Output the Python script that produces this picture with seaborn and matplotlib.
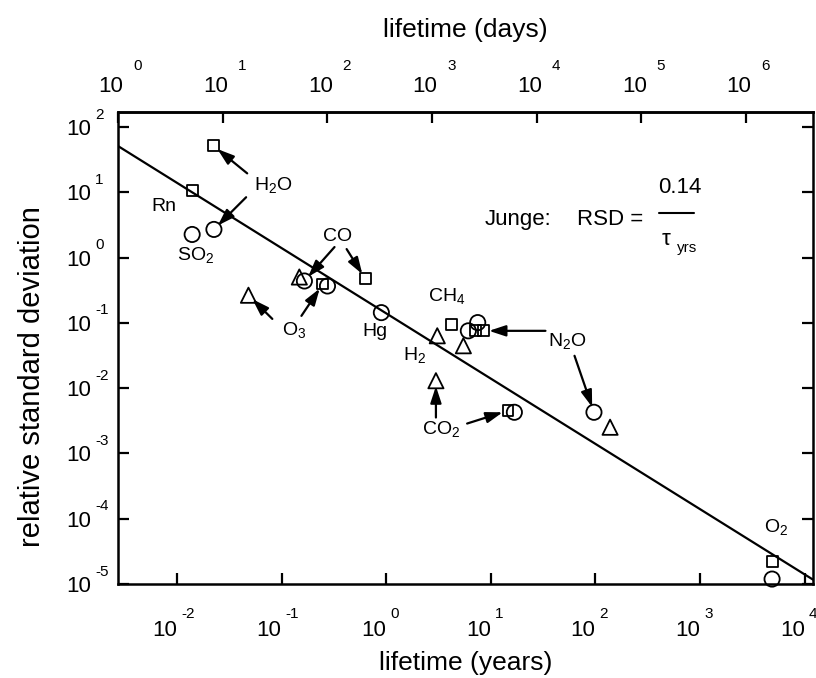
import numpy as np
import pandas as pd
import matplotlib
matplotlib.use("Agg")
import matplotlib.pyplot as plt
from matplotlib.ticker import NullLocator
from matplotlib.transforms import ScaledTranslation
import seaborn as sns

# ---------------- data: lifetime (years) vs relative standard deviation ----------------
circle_species = ["H2O", "SO2", "CO", "O3", "Hg", "CH4", "N2O", "CO2", "N2O", "O2"]
circle_tau = [0.0226, 0.014, 0.1655, 0.275, 0.90, 6.1, 7.5, 16.8, 96.8, 4876]
circle_rsd = [2.7, 2.26, 0.438, 0.367, 0.1435, 0.0755, 0.101, 0.00427, 0.00427, 1.19e-5]

square_species = ["H2O", "Rn", "O3", "CO", "CH4", "CH4", "N2O", "CO2", "O2"]
square_tau = [0.0222, 0.014, 0.248, 0.632, 4.17, 7.1, 8.5, 14.6, 4876]
square_rsd = [52, 10.7, 0.394, 0.474, 0.0955, 0.0755, 0.0755, 0.00453, 2.19e-5]

triangle_species = ["CO", "O3", "H2", "CH4", "CO2", "N2O"]
triangle_tau = [0.148, 0.0483, 3.08, 5.47, 2.99, 138]
triangle_rsd = [0.504, 0.265, 0.0634, 0.0446, 0.013, 0.00252]

# species labels (text, lifetime, rsd at baseline)
label_text = ["H$_2$O", "Rn", "SO$_2$", "CO", "O$_3$", "Hg", "CH$_4$", "H$_2$", "N$_2$O", "CO$_2$", "O$_2$"]
label_tau = [0.083, 0.00759, 0.0152, 0.343, 0.131, 0.785, 3.83, 1.88, 53.5, 3.34, 5360]
label_rsd = [10.7, 5.13, 0.916, 1.79, 0.0657, 0.0634, 0.217, 0.0272, 0.0446, 0.00195, 6.22e-5]

# arrows: start point (lifetime, rsd) -> target marker (kind, index)
arrow_start_tau = [0.047, 0.0459, 0.321, 0.419, 0.0817, 0.155, 33.3, 63.1, 2.99, 5.94]
arrow_start_rsd = [19.5, 8.4, 1.45, 1.35, 0.115, 0.128, 0.0755, 0.0313, 0.00355, 0.00287]
arrow_target = [("square", 0), ("circle", 0), ("circle", 2), ("square", 3), ("triangle", 1),
                ("square", 2), ("square", 6), ("circle", 8), ("triangle", 4), ("square", 7)]

junge_coef = 0.14
days_per_year = 365.25

xtick_exp = [-2, -1, 0, 1, 2, 3, 4]
ytick_exp = [-5, -4, -3, -2, -1, 0, 1, 2]
daytick_exp = [0, 1, 2, 3, 4, 5, 6]

# ---------------- styling ----------------
sns.set_style("ticks")
plt.rcParams["font.family"] = ["Liberation Sans", "DejaVu Sans"]
plt.rcParams["mathtext.fontset"] = "custom"
plt.rcParams["mathtext.rm"] = "Liberation Sans"
plt.rcParams["mathtext.it"] = "Liberation Sans:italic"
plt.rcParams["mathtext.bf"] = "Liberation Sans:bold"
for key in ["text.color", "axes.labelcolor", "xtick.color", "ytick.color",
            "axes.edgecolor", "xtick.labelcolor", "ytick.labelcolor"]:
    plt.rcParams[key] = "black"

df = pd.concat([
    pd.DataFrame({"species": circle_species, "tau": circle_tau, "rsd": circle_rsd, "kind": "circle"}),
    pd.DataFrame({"species": square_species, "tau": square_tau, "rsd": square_rsd, "kind": "square"}),
    pd.DataFrame({"species": triangle_species, "tau": triangle_tau, "rsd": triangle_rsd, "kind": "triangle"}),
], ignore_index=True)

fig = plt.figure(figsize=(8.16, 6.78), dpi=100)
ax = fig.add_axes([118 / 816, 1 - 584 / 678, (813 - 118) / 816, (584 - 112) / 678])
ax.set_xscale("log")
ax.set_yscale("log")
xmin, xmax = 1 / days_per_year, 1.2e4
ax.set_xlim(xmin, xmax)
ax.set_ylim(1e-5, 10 ** 2.23)

# Junge relation line
tau_line = np.array([xmin, xmax])
sns.lineplot(x=tau_line, y=junge_coef / tau_line, color="black", lw=1.6, ax=ax, zorder=2)

markers = {"circle": "o", "square": "s", "triangle": "^"}
sizes = {"circle": 120, "square": 62, "triangle": 120}
for kind in ["circle", "square", "triangle"]:
    g = df[df["kind"] == kind]
    sns.scatterplot(data=g, x="tau", y="rsd", marker=markers[kind], s=sizes[kind],
                    color="black", facecolor="none", edgecolor="black", linewidth=1.3,
                    ax=ax, zorder=3, clip_on=False)
for coll in ax.collections:
    coll.set_facecolor("none")
    coll.set_edgecolor("black")

# arrows
kind_data = {"circle": (circle_tau, circle_rsd), "square": (square_tau, square_rsd),
             "triangle": (triangle_tau, triangle_rsd)}
for sx, sy, (kind, idx) in zip(arrow_start_tau, arrow_start_rsd, arrow_target):
    tx, ty = kind_data[kind][0][idx], kind_data[kind][1][idx]
    ax.annotate("", xy=(tx, ty), xytext=(sx, sy),
                arrowprops=dict(arrowstyle="-|>,head_length=1.0,head_width=0.33",
                                color="black", lw=1.6, shrinkA=0, shrinkB=4),
                zorder=4)

# species labels
for t, x, y in zip(label_text, label_tau, label_rsd):
    ax.text(x, y, t, ha="center", va="baseline", fontsize=14, zorder=5, color="black")

# Junge formula
ax.text(0.528, 0.7606, "Junge:", transform=ax.transAxes, ha="left", va="baseline", fontsize=16)
ax.text(0.66, 0.7606, "RSD =", transform=ax.transAxes, ha="left", va="baseline", fontsize=16)
ax.text(0.8086, 0.8284, f"{junge_coef:.2f}", transform=ax.transAxes, ha="center", va="baseline", fontsize=16)
ax.plot([0.7784, 0.8288], [0.786, 0.786], transform=ax.transAxes, color="black", lw=1.5)
ax.text(0.7827, 0.7182, "τ", transform=ax.transAxes, ha="left", va="baseline", fontsize=16)
ax.text(0.8043, 0.704, "yrs", transform=ax.transAxes, ha="left", va="baseline", fontsize=11)

# ticks
ax.set_xticks([10.0 ** e for e in xtick_exp])
ax.set_xticklabels(["10"] * len(xtick_exp))
ax.set_yticks([10.0 ** e for e in ytick_exp])
ax.set_yticklabels(["10"] * len(ytick_exp))
ax.xaxis.set_minor_locator(NullLocator())
ax.yaxis.set_minor_locator(NullLocator())
ax.tick_params(axis="x", which="major", direction="in", length=8, width=1.6,
               bottom=True, top=False, labelsize=16, pad=26, colors="black")
ax.tick_params(axis="y", which="major", direction="in", length=8, width=1.6,
               left=True, right=True, labelsize=16, pad=19, colors="black")
for lab in ax.get_xticklabels():
    lab.set_ha("right")
for sp in ax.spines.values():
    sp.set_linewidth(1.8)
    sp.set_color("black")
    sp.set_visible(True)

for e in xtick_exp:
    ax.annotate(str(e), xy=(10.0 ** e, 0), xycoords=("data", "axes fraction"),
                xytext=(3, -16.5), textcoords="offset points", ha="left", va="top",
                fontsize=11, annotation_clip=False)
for e in ytick_exp:
    ax.annotate(str(e), xy=(0, 10.0 ** e), xycoords=("axes fraction", "data"),
                xytext=(-16.5, 9), textcoords="offset points", ha="left", va="center",
                fontsize=11, annotation_clip=False)

secax = ax.secondary_xaxis("top", functions=(lambda t: t * days_per_year,
                                             lambda d: d / days_per_year))
secax.set_xticks([10.0 ** e for e in daytick_exp])
secax.set_xticklabels(["10"] * len(daytick_exp))
secax.xaxis.set_minor_locator(NullLocator())
secax.tick_params(axis="x", which="major", direction="in", length=8, width=1.6,
                  labelsize=16, pad=11, colors="black")
shift = ScaledTranslation(4 / 72, 0, fig.dpi_scale_trans)
for lab in secax.get_xticklabels():
    lab.set_ha("right")
    lab.set_transform(lab.get_transform() + shift)
for sp in secax.spines.values():
    sp.set_linewidth(1.8)
    sp.set_color("black")
for e in daytick_exp:
    ax.annotate(str(e), xy=(10.0 ** e / days_per_year, 1), xycoords=("data", "axes fraction"),
                xytext=(11, 28), textcoords="offset points", ha="left", va="bottom",
                fontsize=11, annotation_clip=False)

ax.set_xlabel("lifetime (years)", fontsize=19, color="black")
ax.xaxis.set_label_coords(0.5, -0.141)
secax.set_xlabel("lifetime (days)", fontsize=19, labelpad=28, color="black")
ax.set_ylabel("relative standard deviation", fontsize=21, color="black")
ax.yaxis.set_label_coords(-0.103, 0.44)

fig.savefig("out.png", dpi=100)
